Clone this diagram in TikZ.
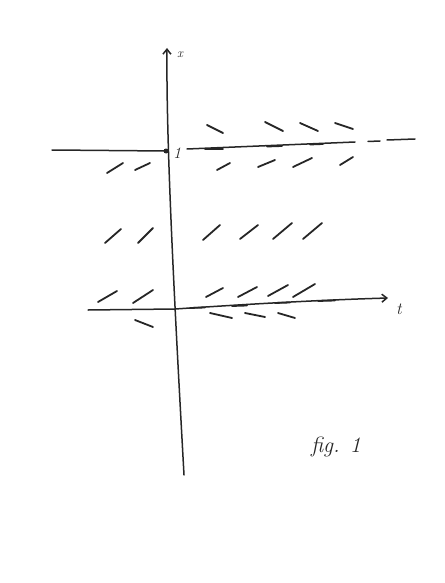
\documentclass[tikz,border=0pt]{standalone}
\usetikzlibrary{arrows.meta}
\begin{document}
\begin{tikzpicture}[x=1pt,y=-1pt,
  pen/.style={line width=1.5pt,draw=black!85,line cap=round},
  slopemark/.style={line width=1.8pt,draw=black!85,line cap=round},
  lbl/.style={font=\itshape,text=black!85,inner sep=0pt}]
\useasboundingbox (0,0) rectangle (444,583);
% vertical axis
\coordinate (vtop) at (167,48);
\coordinate (vmid) at (175,310);
\coordinate (vbot) at (184,475);
\draw[pen,-{Straight Barb[length=5pt,width=8pt]}] (vbot) .. controls (176,330) and (166,150) .. (vtop);
\node[lbl,font=\itshape\fontsize{13}{15}\selectfont] (xl) at (180,55) {x};
% upper line x=1
\coordinate (aL) at (52,150);
\coordinate (aM) at (166,151);
\coordinate (aR0) at (187,149);
\coordinate (aR1) at (355,142);
\draw[pen] (aL) -- (aM);
\draw[pen] (aR0) -- (aR1);
\draw[pen] (368,141.5) -- (380,141);
\draw[pen] (387,140) -- (415,139);
\fill[black!85] (aM) circle (2.5pt);
\node[lbl,font=\itshape\fontsize{16}{18}\selectfont] (one) at (177,153) {1};
% t axis
\coordinate (tL) at (88,310);
\coordinate (tO) at (175,309);
\coordinate (tR) at (388,298);
\draw[pen,-{Straight Barb[length=5pt,width=8pt]}] (tL) -- (tO) .. controls (250,304) and (320,300) .. (tR);
\node[lbl,font=\itshape\fontsize{17}{19}\selectfont] (tl) at (399,309) {t};
% slope marks above x=1 (decreasing)
\foreach \a/\b/\c/\d in {207/125/223/133, 265/122/283/131, 300/123/318/131, 335/123/353/129}
  \draw[slopemark] (\a,\b) -- (\c,\d);
% marks on x=1
\foreach \a/\b/\c/\d in {205/149/223/149, 267/146.5/282/146, 310/144.5/323/144}
  \draw[slopemark] (\a,\b) -- (\c,\d);
% marks just below x=1
\foreach \a/\b/\c/\d in {107/173/123/163, 135/170/150/163, 217/170/230/163, 258/167/275/160, 293/167/312/158, 340/165/353/157}
  \draw[slopemark] (\a,\b) -- (\c,\d);
% middle row
\foreach \a/\b/\c/\d in {105/243/121/229, 138/243/153/228, 203/240/220/225, 240/239/258/225, 273/239/292/223, 303/239/322/223}
  \draw[slopemark] (\a,\b) -- (\c,\d);
% lower row above t axis
\foreach \a/\b/\c/\d in {98/302/117/291, 133/303/153/290, 206/297/223/288, 238/297/257/287, 268/296/288/285, 293/297/315/284}
  \draw[slopemark] (\a,\b) -- (\c,\d);
% marks on t axis
\foreach \a/\b/\c/\d in {190/308/205/307.5, 232/306/247/305.5, 275/303/290/302.5, 318/301/335/300.5}
  \draw[slopemark] (\a,\b) -- (\c,\d);
% below t axis
\foreach \a/\b/\c/\d in {135/320/153/327, 210/313/232/318, 245/313/265/317, 278/313/295/318}
  \draw[slopemark] (\a,\b) -- (\c,\d);
% caption
\node[lbl,font=\itshape\fontsize{22}{26}\selectfont] (fig) at (336,447) {fig. 1};
\end{tikzpicture}
\end{document}
